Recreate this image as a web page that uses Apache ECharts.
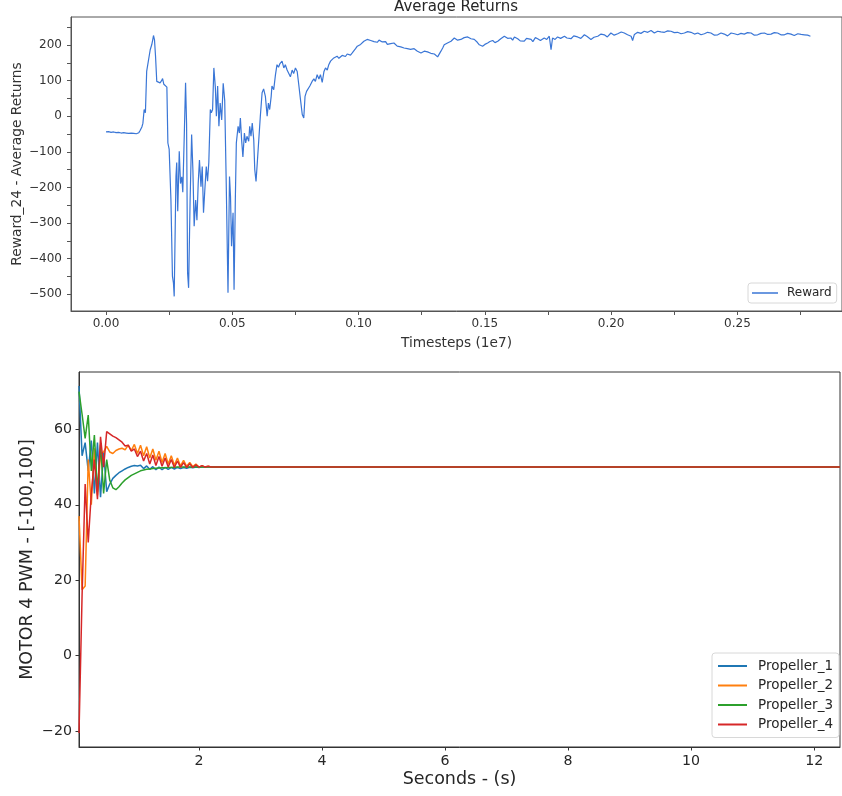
<!DOCTYPE html>
<html>
<head>
<meta charset="utf-8">
<script src="https://cdn.jsdelivr.net/npm/echarts@6/dist/echarts.min.js"></script>
<style>
html,body{margin:0;padding:0;background:#fff;}
#chart{width:842px;height:796px;}
</style>
</head>
<body>
<div id="chart"></div>
<script>
// ---------- Top chart: Average Returns ----------
const rewardCurve = [
[0.0000,-44],[0.0005,-47],[0.0010,-43],[0.0015,-48],[0.0020,-45],[0.0025,-49],[0.0030,-44],[0.0035,-48],[0.0040,-46],[0.0045,-50],
[0.0050,-45],[0.0055,-49],[0.0060,-47],[0.0065,-51],[0.0070,-46],[0.0075,-50],[0.0080,-47],[0.0085,-51],[0.0090,-48],[0.0095,-52],
[0.0100,-47],[0.0105,-51],[0.0110,-48],[0.0115,-52],[0.0120,-49],[0.0125,-53],[0.0130,-46],
[0.0135,-40],[0.0142,-30],[0.0146,-20],[0.0151,19],[0.0156,10],[0.0161,126],[0.0168,130],[0.0175,187],[0.0181,201],[0.0185,215],
[0.0188,227],[0.0192,215],[0.0196,170],[0.0201,98],[0.0208,95],[0.0214,94],[0.0220,100],[0.0224,106],[0.0229,90],[0.0234,86],
[0.0241,82],[0.0245,-75],[0.0250,-92],[0.0257,-234],[0.0263,-449],[0.0267,-468],[0.0270,-506],[0.0277,-169],[0.0280,-130],[0.0284,-267],
[0.0290,-98],[0.0295,-189],[0.0300,-170],[0.0304,-213],[0.0310,-50],[0.0315,94],[0.0319,-20],[0.0323,-440],[0.0327,-482],[0.0333,-235],
[0.0339,-51],[0.0344,-150],[0.0349,-309],[0.0355,-235],[0.0360,-292],[0.0365,-189],[0.0370,-123],[0.0376,-198],[0.0381,-141],[0.0386,-271],
[0.0392,-198],[0.0397,-141],[0.0402,-182],[0.0407,-130],[0.0413,19],[0.0417,10],[0.0422,19],[0.0427,136],[0.0433,80],[0.0437,0],
[0.0442,85],[0.0447,-28],[0.0452,37],[0.0458,-10],[0.0464,93],[0.0470,44],[0.0476,-189],[0.0483,-496],[0.0489,-169],[0.0493,-226],
[0.0497,-365],[0.0503,-271],[0.0507,-487],[0.0512,-235],[0.0516,-75],[0.0523,-28],[0.0528,-47],[0.0532,-5],[0.0537,-67],[0.0542,-114],
[0.0548,-47],[0.0553,-75],[0.0558,-56],[0.0565,-70],[0.0569,-28],[0.0574,-56],[0.0579,-19],[0.0585,-67],[0.0589,-150],[0.0594,-183],
[0.0599,-130],[0.0605,-130],[0.0611,0],[0.0618,66],[0.0624,77],[0.0631,56],[0.0638,0],[0.0643,37],[0.0648,19],[0.0654,56],
[0.0657,85],[0.0664,75],[0.0671,117],[0.0677,145],[0.0683,138],[0.0688,147],[0.0697,155],[0.0704,136],[0.0710,145],[0.0717,130],
[0.0724,126],[0.0730,111],[0.0737,130],[0.0743,120],[0.0750,136],[0.0757,126],[0.0763,90],[0.0770,47],[0.0777,5],[0.0783,-5],
[0.0788,56],[0.0794,70],[0.0799,66],[0.0807,85],[0.0816,98],[0.0823,105],[0.0829,98],[0.0836,117],[0.0843,105],[0.0849,117],
[0.0856,95],[0.0863,126],[0.0869,136],[0.0876,130],[0.0882,145],[0.0889,155],[0.0896,159],[0.0902,164],[0.0909,160],[0.0915,169],
[0.0922,163],[0.0929,166],[0.0935,171],[0.0942,173],[0.0948,168],[0.0955,175],[0.0962,170],[0.0968,172],[0.0975,178],[0.0982,183],
[0.0988,190],[0.0995,197],[0.1001,199],[0.1008,202],[0.1015,206],[0.1021,211],[0.1028,213],[0.1034,216],[0.1041,211],[0.1048,213],
[0.1054,217],[0.1061,210],[0.1067,212],[0.1074,208],[0.1081,214],[0.1087,213],[0.1094,209],[0.1101,206],[0.1107,210],[0.1114,202],
[0.1120,206],[0.1127,204],[0.1134,208],[0.1140,206],[0.1147,201],[0.1153,197],[0.1160,199],[0.1167,195],[0.1173,197],[0.1180,192],
[0.1186,194],[0.1193,190],[0.1200,191],[0.1206,188],[0.1213,192],[0.1220,190],[0.1226,186],[0.1233,183],[0.1240,185],[0.1247,178],
[0.1260,183],[0.1273,181],[0.1286,177],[0.1300,175],[0.1313,167],[0.1320,172],[0.1326,183],[0.1333,192],[0.1339,201],[0.1352,206],
[0.1366,211],[0.1372,208],[0.1379,220],[0.1392,214],[0.1405,216],[0.1418,221],[0.1432,223],[0.1445,218],[0.1458,216],[0.1470,208],
[0.1478,201],[0.1485,204],[0.1491,197],[0.1500,202],[0.1511,206],[0.1520,210],[0.1531,213],[0.1540,207],[0.1551,211],[0.1563,218],
[0.1577,225],[0.1590,219],[0.1603,220],[0.1610,214],[0.1617,223],[0.1630,218],[0.1640,212],[0.1656,211],[0.1665,219],[0.1683,216],
[0.1690,210],[0.1700,221],[0.1709,218],[0.1720,213],[0.1735,220],[0.1745,216],[0.1755,225],[0.1762,187],[0.1768,220],[0.1778,216],
[0.1788,223],[0.1800,219],[0.1815,225],[0.1825,220],[0.1841,218],[0.1852,226],[0.1867,223],[0.1880,219],[0.1894,229],[0.1905,224],
[0.1920,216],[0.1932,222],[0.1947,225],[0.1960,231],[0.1973,229],[0.1985,223],[0.1999,234],[0.2012,228],[0.2026,232],[0.2040,237],
[0.2052,234],[0.2065,229],[0.2079,225],[0.2085,213],[0.2092,230],[0.2105,236],[0.2118,233],[0.2131,239],[0.2145,236],[0.2158,241],
[0.2171,234],[0.2184,239],[0.2197,237],[0.2211,236],[0.2224,240],[0.2237,239],[0.2250,235],[0.2263,236],[0.2277,232],[0.2290,234],
[0.2303,238],[0.2316,236],[0.2330,231],[0.2343,234],[0.2356,229],[0.2369,232],[0.2382,236],[0.2395,234],[0.2409,228],[0.2422,229],
[0.2435,234],[0.2448,231],[0.2461,226],[0.2475,234],[0.2488,232],[0.2501,229],[0.2514,233],[0.2527,231],[0.2540,235],[0.2554,234],
[0.2567,228],[0.2580,229],[0.2593,233],[0.2607,234],[0.2620,230],[0.2633,231],[0.2646,235],[0.2659,234],[0.2672,229],[0.2686,229],
[0.2699,233],[0.2712,231],[0.2725,227],[0.2739,232],[0.2752,230],[0.2765,229],[0.2778,228],[0.2789,225]
];
const rewardXLabels = [0, 0.05, 0.10, 0.15, 0.20, 0.25];
const rewardXTicks = [0, 0.025, 0.05, 0.075, 0.10, 0.125, 0.15, 0.175, 0.20, 0.225, 0.25, 0.275];
const rewardYLabels = [-500, -400, -300, -200, -100, 0, 100, 200];
const rewardYTicks = [-500, -450, -400, -350, -300, -250, -200, -150, -100, -50, 0, 50, 100, 150, 200, 250];

// ---------- Bottom chart: Motor 4 PWM ----------
const motorSeconds = [0.05,0.10,0.15,0.20,0.25,0.30,0.35,0.40,0.45,0.50,
  0.55,0.60,0.65,0.70,0.75,0.80,0.85,0.90,0.95,1.00,
  1.05,1.10,1.15,1.20,1.25,1.30,1.35,1.40,1.45,1.50,
  1.55,1.60,1.65,1.70,1.75,1.80,1.85,1.90,1.95,2.00,
  2.05,2.10,2.15,2.20,2.25,12.42];
const propeller1 = [71.5,53,56.5,49,57,43,56.5,42,54,43.5,
  45.5,47,47.8,48.5,49,49.5,49.9,50.2,50.4,50.3,
  50.5,49.6,50.3,49.4,50.1,49.3,50,49.3,49.9,49.4,
  49.9,49.5,49.9,49.6,49.9,49.7,49.95,49.8,50,49.9,
  50,50,50,50,50,50];
const propeller2 = [37,17.5,18.5,52,40,55,42.5,53.5,54,55.5,
  54,53.6,54.4,54.8,55,54.6,55.8,54.4,56,53.6,
  55.8,53,55.4,52.4,54.8,51.8,54.2,51.2,53.6,50.8,
  53,50.5,52.4,50.3,51.8,50.2,51.2,50.1,50.8,50,
  50.4,50,50.2,50,50,50];
const propeller3 = [70,64,57.6,63.8,49,58.5,43.5,56,43,52,
  46.5,44.5,44,44.8,45.8,46.6,47.2,47.8,48.2,48.6,
  49,49.2,49.4,49.5,49.6,49.7,49.75,49.8,49.85,49.9,
  49.9,49.95,50,50,50,50,50,50,50,50,
  50,50,50,50,50,50];
const propeller4 = [-20.5,16,45.5,30,43,52,41.5,58,50,59.4,
  58.8,58.2,57.8,57.2,56.6,55.6,55.8,54.2,54.8,52.8,
  54.2,51.6,53.6,50.8,53.2,50.4,52.8,50.2,52.4,50,
  52,49.9,51.6,49.9,51.2,49.9,50.9,49.9,50.6,50,
  50.4,50,50.2,50,50,50];
const motorXLabels = [2, 4, 6, 8, 10, 12];
const motorYLabels = [-20, 0, 20, 40, 60];
const propellerNames = ['Propeller_1', 'Propeller_2', 'Propeller_3', 'Propeller_4'];
const propellerColors = ['#1f77b4', '#ff7f0e', '#2ca02c', '#d62728'];

const minus = v => String(v).replace('-', '\u2212');
const FONT = 'DejaVu Sans';
const TXT = '#262626';

const chart = echarts.init(document.getElementById('chart'), null, {renderer: 'canvas'});
const propellerData = [propeller1, propeller2, propeller3, propeller4];

const option = {
  animation: false,
  textStyle: {fontFamily: FONT},
  title: {
    text: 'Average Returns', left: 456, top: 0, padding: 0, textAlign: 'center',
    textStyle: {fontFamily: FONT, fontSize: 15, fontWeight: 'normal', color: TXT}
  },
  legend: [
    {
      data: ['Reward'], left: 748, top: 283, orient: 'vertical',
      icon: 'rect', itemWidth: 26, itemHeight: 1.5,
      padding: [4, 5, 4, 4],
      backgroundColor: '#fff', borderColor: '#d8d8d8', borderWidth: 1, borderRadius: 3,
      textStyle: {fontFamily: FONT, fontSize: 12, color: TXT, padding: [0, 0, 0, 4]}
    },
    {
      data: propellerNames, left: 712, top: 653, orient: 'vertical',
      icon: 'rect', itemWidth: 29, itemHeight: 2, itemGap: 5.5,
      padding: [6, 6, 6, 6],
      backgroundColor: '#fff', borderColor: '#d8d8d8', borderWidth: 1, borderRadius: 3,
      textStyle: {fontFamily: FONT, fontSize: 13.5, color: TXT, padding: [0, 0, 0, 6]}
    }
  ],
  grid: [
    {left: 71, right: 0, top: 17, height: 294, show: true, borderColor: '#555', borderWidth: 1, outerBoundsMode: 'none', containLabel: false},
    {left: 79, right: 2, top: 372, height: 375, show: true, borderColor: '#333', borderWidth: 1, outerBoundsMode: 'none', containLabel: false}
  ],
  xAxis: [
    {
      type: 'value', gridIndex: 0, min: -0.01386, max: 0.2914,
      axisLine: {show: true, onZero: false, lineStyle: {color: '#555', width: 1}},
      axisTick: {show: true, customValues: rewardXTicks, length: 4, lineStyle: {color: '#555'}},
      axisLabel: {customValues: rewardXLabels, formatter: v => v.toFixed(2), fontSize: 12, color: '#333', margin: 7, fontFamily: FONT},
      splitLine: {show: false},
      name: 'Timesteps (1e7)', nameLocation: 'middle', nameGap: 25,
      nameTextStyle: {fontFamily: FONT, fontSize: 13.7, color: '#333'}
    },
    {
      type: 'value', gridIndex: 1, min: 0.05, max: 12.42,
      axisLine: {show: true, onZero: false, lineStyle: {color: '#333', width: 1}},
      axisTick: {show: true, customValues: motorXLabels, length: 3.5, lineStyle: {color: '#333'}},
      axisLabel: {customValues: motorXLabels, fontSize: 14.2, color: TXT, margin: 7, fontFamily: FONT},
      splitLine: {show: false},
      name: 'Seconds - (s)', nameLocation: 'middle', nameGap: 23,
      nameTextStyle: {fontFamily: FONT, fontSize: 17.5, color: TXT}
    }
  ],
  yAxis: [
    {
      type: 'value', gridIndex: 0, min: -547, max: 279,
      axisLine: {show: true, onZero: false, lineStyle: {color: '#555', width: 1}},
      axisTick: {show: true, customValues: rewardYTicks, length: 4, lineStyle: {color: '#555'}},
      axisLabel: {customValues: rewardYLabels, formatter: minus, fontSize: 12, color: '#333', margin: 9, fontFamily: FONT},
      splitLine: {show: false},
      name: 'Reward_24 - Average Returns', nameLocation: 'middle', nameGap: 47, nameRotate: 90,
      nameMoveOverlap: false,
      nameTextStyle: {fontFamily: FONT, fontSize: 13.8, color: '#333'}
    },
    {
      type: 'value', gridIndex: 1, min: -24.2, max: 75.2,
      axisLine: {show: true, onZero: false, lineStyle: {color: '#333', width: 1}},
      axisTick: {show: true, customValues: motorYLabels, length: 3.5, lineStyle: {color: '#333'}},
      axisLabel: {customValues: motorYLabels, formatter: minus, fontSize: 14.2, color: TXT, margin: 7, fontFamily: FONT},
      splitLine: {show: false},
      name: 'MOTOR 4 PWM - [-100,100]', nameLocation: 'middle', nameGap: 43, nameRotate: 90,
      nameMoveOverlap: false,
      nameTextStyle: {fontFamily: FONT, fontSize: 17.5, color: TXT}
    }
  ],
  series: [
    {
      type: 'line', name: 'Reward', xAxisIndex: 0, yAxisIndex: 0,
      data: rewardCurve, showSymbol: false, symbol: 'none', sampling: null,
      lineStyle: {width: 1.2, color: '#3a76d6'}, itemStyle: {color: '#3a76d6'}
    }
  ].concat(propellerNames.map((n, i) => ({
    type: 'line', name: n, xAxisIndex: 1, yAxisIndex: 1,
    data: motorSeconds.map((t, j) => [t, propellerData[i][j]]),
    showSymbol: false, symbol: 'none',
    lineStyle: {width: 1.5, color: propellerColors[i]}, itemStyle: {color: propellerColors[i]}
  })))
};
chart.setOption(option);
</script>
</body>
</html>
